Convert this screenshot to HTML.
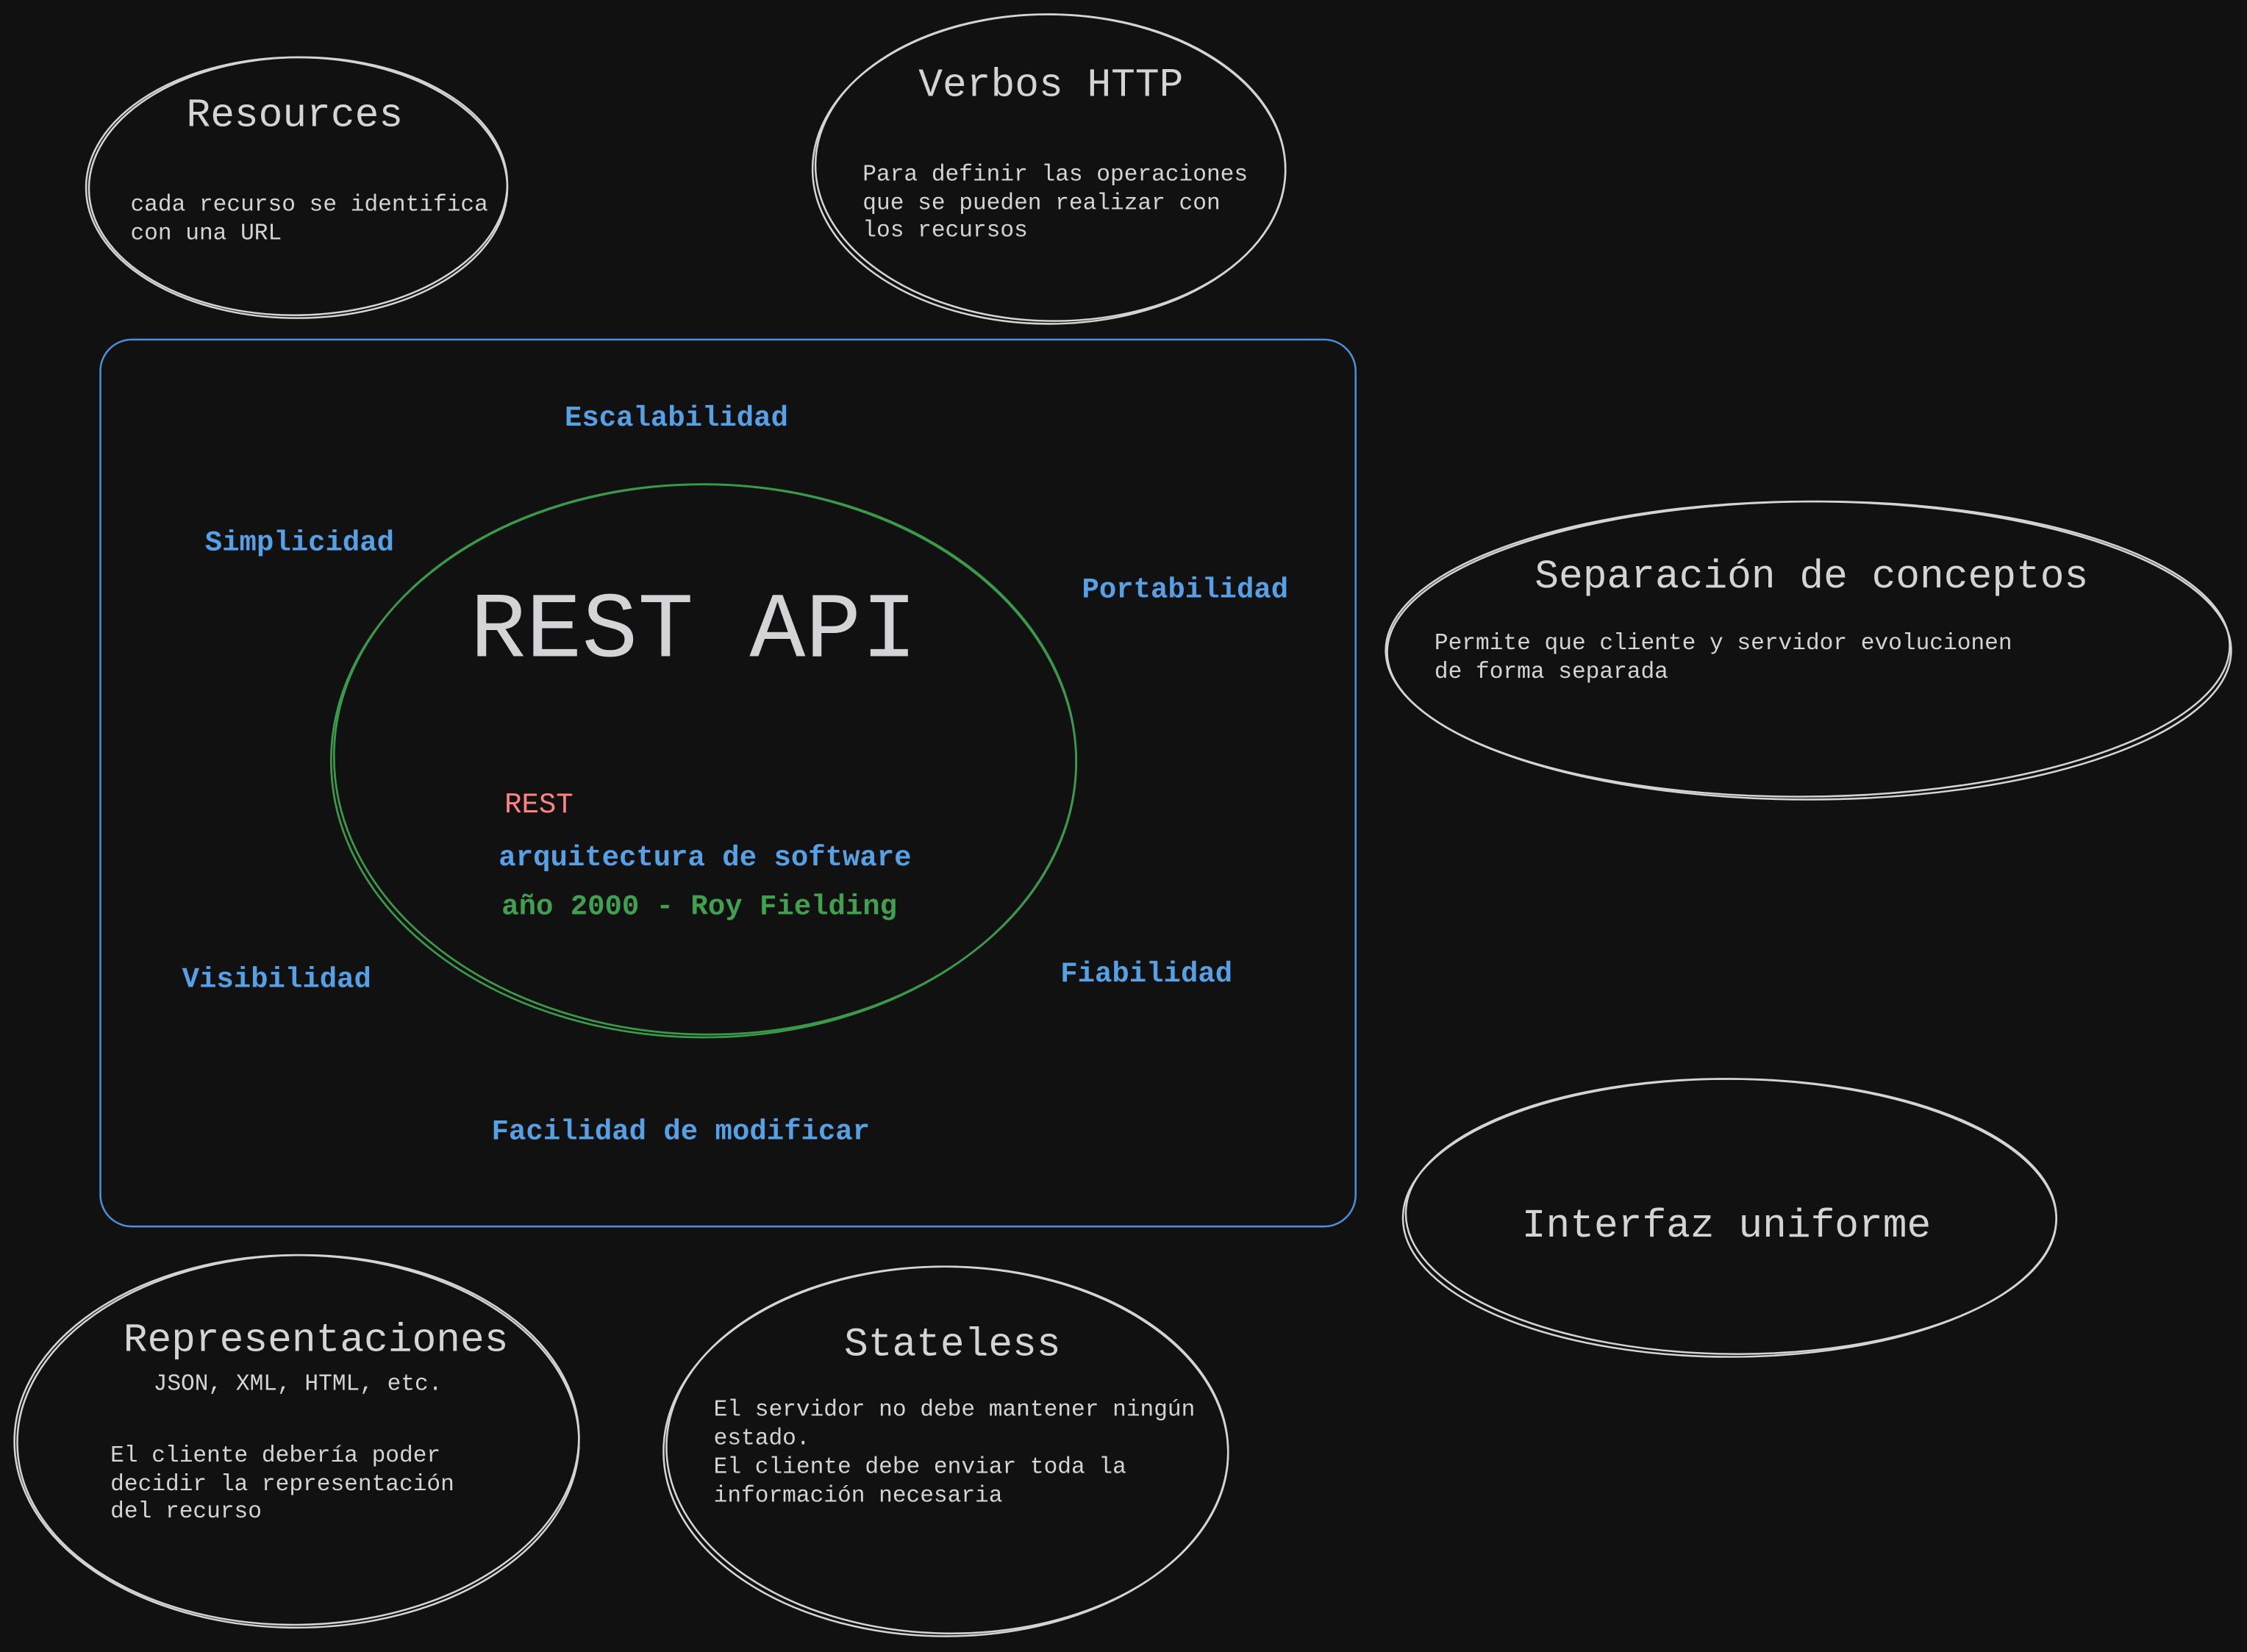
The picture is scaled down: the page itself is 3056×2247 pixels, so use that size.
<!DOCTYPE html>
<html><head><meta charset="utf-8"><style>
html,body{margin:0;padding:0;background:#111111;}
svg{display:block}
text{font-family:"Liberation Mono","DejaVu Sans Mono",monospace;}
.t{fill:#d4d4d6;font-size:28px}
.b{fill:#d4d4d6;font-size:16px}
.l{fill:#56a0e6;font-size:20px;font-weight:bold}
</style></head><body>
<svg width="3056" height="2247" viewBox="0 0 1568 1153" xmlns="http://www.w3.org/2000/svg">
<rect width="1568" height="1153" fill="#111111"/>
<g fill="none" stroke="#d4d4d6" stroke-width="1.3">
<ellipse cx="207" cy="131" rx="147" ry="91"/>
<ellipse cx="208" cy="130" rx="146" ry="90" transform="rotate(-1 207 131)"/>
<ellipse cx="732" cy="118" rx="165" ry="108"/>
<ellipse cx="733" cy="117" rx="164" ry="107" transform="rotate(1 732 118)"/>
<ellipse cx="1262" cy="454" rx="295" ry="104"/>
<ellipse cx="1262" cy="453" rx="294" ry="103" transform="rotate(-0.5 1262 454)"/>
<ellipse cx="1207" cy="850" rx="228" ry="97"/>
<ellipse cx="1208" cy="849" rx="227" ry="96" transform="rotate(0.6 1207 850)"/>
<ellipse cx="207" cy="1006" rx="197" ry="130"/>
<ellipse cx="208" cy="1005" rx="196" ry="129" transform="rotate(-1 207 1006)"/>
<ellipse cx="660" cy="1013" rx="197" ry="129"/>
<ellipse cx="661" cy="1012" rx="196" ry="128" transform="rotate(1 660 1013)"/>
</g>
<rect x="70" y="237" width="876" height="619" rx="22" fill="none" stroke="#4a90d9" stroke-width="1.3"/>
<g fill="none" stroke="#3a9a4a" stroke-width="1.4">
<ellipse cx="491" cy="531" rx="260" ry="193"/>
<ellipse cx="492" cy="530" rx="259" ry="192" transform="rotate(1 491 531)"/>
</g>
<text class="t" x="130" y="88">Resources</text>
<text class="b" x="91" y="147">cada recurso se identifica</text>
<text class="b" x="91" y="167">con una URL</text>
<text class="t" x="641" y="67">Verbos HTTP</text>
<text class="b" x="602" y="126">Para definir las operaciones</text>
<text class="b" x="602" y="146">que se pueden realizar con</text>
<text class="b" x="602" y="165">los recursos</text>
<text class="t" x="1071" y="410">Separación de conceptos</text>
<text class="b" x="1001" y="453">Permite que cliente y servidor evolucionen</text>
<text class="b" x="1001" y="473">de forma separada</text>
<text class="t" x="1062" y="863">Interfaz uniforme</text>
<text class="t" x="86" y="943">Representaciones</text>
<text class="b" x="107" y="970">JSON, XML, HTML, etc.</text>
<text class="b" x="77" y="1020">El cliente debería poder</text>
<text class="b" x="77" y="1040">decidir la representación</text>
<text class="b" x="77" y="1059">del recurso</text>
<text class="t" x="589" y="946">Stateless</text>
<text class="b" x="498" y="988">El servidor no debe mantener ningún</text>
<text class="b" x="498" y="1008">estado.</text>
<text class="b" x="498" y="1028">El cliente debe enviar toda la</text>
<text class="b" x="498" y="1048">información necesaria</text>
<text x="328" y="458" style="fill:#d4d4d6;font-size:65px">REST API</text>
<text x="352" y="567" style="fill:#ff8383;font-size:20px">REST</text>
<text x="348" y="604" style="fill:#56a0e6;font-size:20px;font-weight:bold">arquitectura de software</text>
<text x="350" y="638" style="fill:#40a050;font-size:20px;font-weight:bold">año 2000 - Roy Fielding</text>
<text class="l" x="394" y="297">Escalabilidad</text>
<text class="l" x="143" y="384">Simplicidad</text>
<text class="l" x="755" y="417">Portabilidad</text>
<text class="l" x="127" y="689">Visibilidad</text>
<text class="l" x="740" y="685">Fiabilidad</text>
<text class="l" x="343" y="795">Facilidad de modificar</text>
</svg>
</body></html>
